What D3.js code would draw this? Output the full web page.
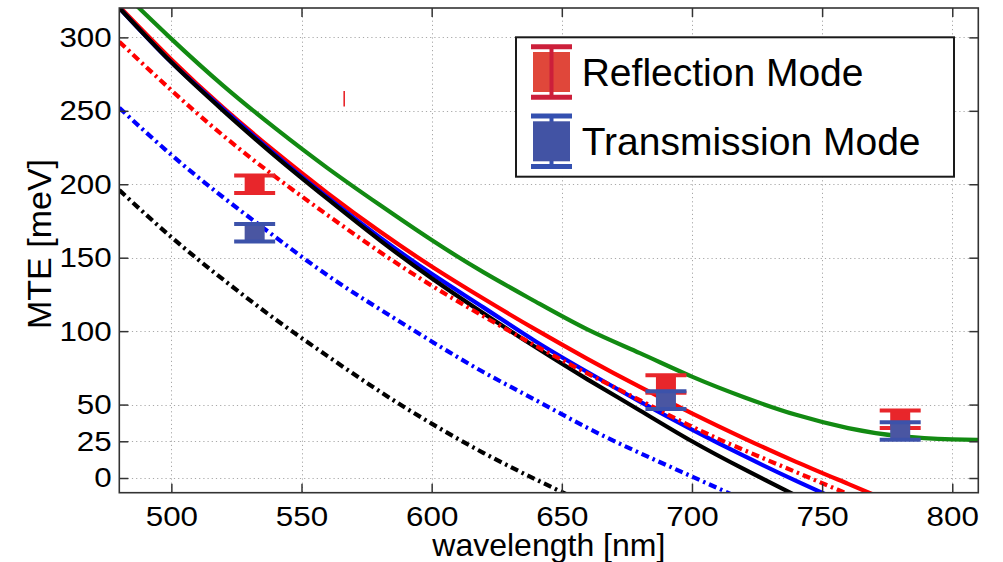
<!DOCTYPE html>
<html>
<head>
<meta charset="utf-8">
<script src="https://cdn.jsdelivr.net/npm/d3@7"></script>
<style>
  body { margin: 0; background: #fff; }
  svg { display: block; }
  text { font-family: "Liberation Sans", Arial, Helvetica, sans-serif; fill: #000; }
</style>
</head>
<body>
<svg id="chart" width="1003" height="562"></svg>
<script>
// Wavelength grid (nm) shared by all model curves
const wavelengths = [480, 500, 520, 540, 560, 580, 600, 620, 640, 660, 680, 700, 720, 740, 760, 780, 800, 810];

// MTE curves (meV) sampled on the grid above
const greenSolid = [333, 299, 267, 238, 211, 186, 162, 140, 120, 101, 85, 69, 55, 43, 34, 28.5, 26.3, 26];
const redSolid   = [321, 285, 252, 222, 194, 168, 144, 122, 101, 81, 62, 44, 27, 11, -4, -19];
const blueSolid  = [320, 283, 251, 220, 191, 164, 139, 116, 93, 72, 52, 33, 15, -2, -18];
const blackSolid = [320, 283, 250, 219, 190, 162, 136, 112, 89, 67, 46, 25, 6, -12];
const redDashDot   = [297, 264, 233, 205, 179, 154, 131, 110, 90, 71, 53, 35, 19, 4, -11];
const blueDashDot  = [252, 220, 191, 164, 138, 115, 93, 72, 53, 34, 17, 1, -15];
const blackDashDot = [196, 164, 135, 108, 83, 59, 37, 17, -1, -18];

// Measured MTE with uncertainty
const measuredWavelengths = [532, 690, 780];
const reflectionMTE = [200, 64, 40];
const reflectionErr = [6, 6, 6];
const transmissionMTE = [167, 53, 32];
const transmissionErr = [6, 6, 6];

// Small stray vertical mark (wavelength, low, high)
const strayMark = [566.4, 253, 263.5];

// Axis ticks
const xTicks = [500, 550, 600, 650, 700, 750, 800];
const yTicks = [0, 25, 50, 100, 150, 200, 250, 300];

const legendLabels = ["Reflection Mode", "Transmission Mode"];

// ---- layout ----
const svg = d3.select("#chart");
const plot = { left: 119.3, right: 978.3, top: 8, bottom: 492.7 };

const x = d3.scaleLinear().domain([480, 810]).range([plot.left, plot.right]);
const y = d3.scaleLinear().domain([-10, 320]).range([plot.bottom, plot.top]);

svg.append("rect").attr("width", 1003).attr("height", 562).attr("fill", "#fff");

svg.append("defs").append("clipPath").attr("id", "plotClip")
  .append("rect")
  .attr("x", plot.left).attr("y", plot.top)
  .attr("width", plot.right - plot.left).attr("height", plot.bottom - plot.top);

// ---- dotted grid ----
const grid = svg.append("g").attr("stroke", "#a8a8a8").attr("stroke-width", 1)
  .attr("stroke-dasharray", "1.2,3");
grid.selectAll("line.vx").data(xTicks).join("line")
  .attr("x1", d => Math.round(x(d)) + 0.5).attr("x2", d => Math.round(x(d)) + 0.5)
  .attr("y1", plot.top).attr("y2", plot.bottom);
grid.selectAll("line.hy").data(yTicks).join("line")
  .attr("y1", d => Math.round(y(d)) + 0.5).attr("y2", d => Math.round(y(d)) + 0.5)
  .attr("x1", plot.left).attr("x2", plot.right);

// ---- curves ----
const curveLayer = svg.append("g").attr("clip-path", "url(#plotClip)").attr("fill", "none");
const line = d3.line().x(d => x(d[0])).y(d => y(d[1])).curve(d3.curveNatural);
const pairs = vals => vals.map((v, i) => [wavelengths[i], v]);

const curves = [
  { values: greenSolid, color: "#128a12", dash: null },
  { values: redSolid, color: "#ff0000", dash: null },
  { values: blueSolid, color: "#0000ff", dash: null },
  { values: blackSolid, color: "#000000", dash: null },
  { values: redDashDot, color: "#ff0000", dash: "8,4,2.5,4" },
  { values: blueDashDot, color: "#0000ff", dash: "8,4,2.5,4" },
  { values: blackDashDot, color: "#000000", dash: "8,4,2.5,4" }
];
curves.forEach(c => {
  curveLayer.append("path")
    .attr("d", line(pairs(c.values)))
    .attr("stroke", c.color)
    .attr("stroke-width", 4.2)
    .attr("stroke-dasharray", c.dash);
});

// stray mark
curveLayer.append("line")
  .attr("x1", x(strayMark[0])).attr("x2", x(strayMark[0]))
  .attr("y1", y(strayMark[1])).attr("y2", y(strayMark[2]))
  .attr("stroke", "#e8262b").attr("stroke-width", 1.6);

// ---- error-bar markers ----
function drawMarkers(vals, errs, fill, capColor) {
  const g = svg.append("g");
  measuredWavelengths.forEach((w, i) => {
    const cx = x(w), cy = y(vals[i]);
    const yTop = y(vals[i] + errs[i]), yBot = y(vals[i] - errs[i]);
    g.append("line").attr("x1", cx).attr("x2", cx).attr("y1", yTop).attr("y2", yBot)
      .attr("stroke", capColor).attr("stroke-width", 4);
    g.append("rect").attr("x", cx - 10).attr("y", cy - 10).attr("width", 20).attr("height", 20)
      .attr("fill", fill);
    [yTop, yBot].forEach(yy => {
      g.append("line").attr("x1", cx - 20.5).attr("x2", cx + 20.5).attr("y1", yy).attr("y2", yy)
        .attr("stroke", capColor).attr("stroke-width", 4);
    });
  });
}
drawMarkers(reflectionMTE, reflectionErr, "#e8262b", "#e8262b");
drawMarkers(transmissionMTE, transmissionErr, "#4a56a2", "#3c52aa");

// ---- axes (box style, inward ticks) ----
const tickFont = 28, stretch = 1.12;
const axisStyle = g => {
  g.selectAll(".domain").remove();
  g.selectAll(".tick line").attr("stroke", "#333").attr("stroke-width", 1.5);
  g.selectAll(".tick text").attr("font-size", tickFont).attr("fill", "#000")
    .style("font-family", '"Liberation Sans", Arial, sans-serif');
};

svg.append("g").attr("transform", `translate(0,${plot.bottom})`)
  .call(d3.axisBottom(x).tickValues(xTicks).tickSize(-9).tickPadding(13))
  .call(axisStyle)
  .call(g => g.selectAll(".tick text").attr("transform", `scale(${stretch},1)`));
svg.append("g").attr("transform", `translate(0,${plot.top})`)
  .call(d3.axisTop(x).tickValues(xTicks).tickSize(-9).tickFormat(""))
  .call(axisStyle);
svg.append("g").attr("transform", `translate(${plot.left},0)`)
  .call(d3.axisLeft(y).tickValues(yTicks).tickSize(-9).tickPadding(8))
  .call(axisStyle)
  .call(g => g.selectAll(".tick text").attr("x", -7.6 / stretch)
    .attr("transform", `scale(${stretch},1)`));
svg.append("g").attr("transform", `translate(${plot.right},0)`)
  .call(d3.axisRight(y).tickValues(yTicks).tickSize(-9).tickFormat(""))
  .call(axisStyle);

svg.append("rect")
  .attr("x", plot.left).attr("y", plot.top)
  .attr("width", plot.right - plot.left).attr("height", plot.bottom - plot.top)
  .attr("fill", "none").attr("stroke", "#333").attr("stroke-width", 1.6);

// ---- axis titles ----
svg.append("text")
  .attr("x", (plot.left + plot.right) / 2).attr("y", 555.5)
  .attr("text-anchor", "middle").attr("font-size", 32)
  .text("wavelength [nm]");
svg.append("text")
  .attr("transform", "translate(51,244) rotate(-90)")
  .attr("text-anchor", "middle").attr("font-size", 34)
  .text("MTE [meV]");

// ---- legend ----
const legend = svg.append("g");
legend.append("rect").attr("x", 516).attr("y", 37.3).attr("width", 438).attr("height", 139.4)
  .attr("fill", "#fff").attr("stroke", "#1a1a1a").attr("stroke-width", 2);

const legendItems = [
  { label: legendLabels[0], fill: "#e0473a", bar: "#cc1f3a", cy: 72, barOnTop: true },
  { label: legendLabels[1], fill: "#4253a4", bar: "#3450b0", cy: 141.3, barOnTop: false }
];
legendItems.forEach(item => {
  const cx = 551.5, half = 25.3;
  const g = legend.append("g");
  const bar = () => g.append("line").attr("x1", cx).attr("x2", cx)
    .attr("y1", item.cy - half).attr("y2", item.cy + half)
    .attr("stroke", item.bar).attr("stroke-width", 4);
  if (!item.barOnTop) bar();
  g.append("rect").attr("x", cx - 18.5).attr("y", item.cy - 20).attr("width", 37).attr("height", 40)
    .attr("fill", item.fill);
  if (item.barOnTop) bar();
  [item.cy - half, item.cy + half].forEach(yy => {
    g.append("line").attr("x1", cx - 20.5).attr("x2", cx + 20.5).attr("y1", yy).attr("y2", yy)
      .attr("stroke", item.bar).attr("stroke-width", 5);
  });
  g.append("text").attr("x", 581.7).attr("y", item.cy + 13.5)
    .attr("font-size", 39).text(item.label);
});
</script>
</body>
</html>
